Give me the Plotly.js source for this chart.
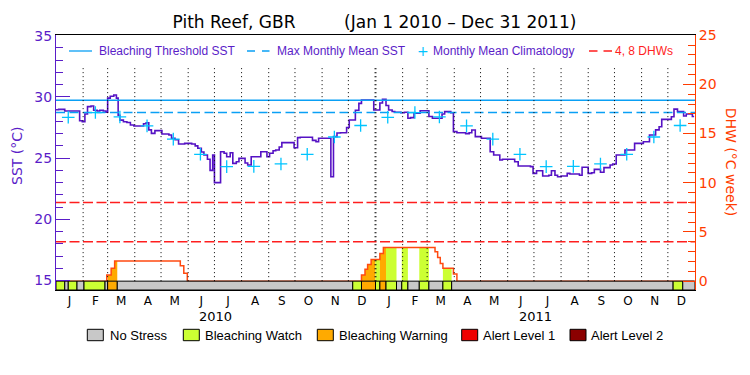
<!DOCTYPE html>
<html>
<head>
<meta charset="utf-8">
<script src="https://cdn.plot.ly/plotly-3.0.1.min.js"></script>
<style>html,body{margin:0;padding:0;background:#fff}</style>
</head>
<body>
<div id="chart" style="width:750px;height:375px"></div>
<script>
// ---------------- data ----------------
const sstDates = [
"2010-01-01","2010-01-04","2010-01-08","2010-01-11","2010-01-15","2010-01-18","2010-01-22","2010-01-25","2010-01-28","2010-01-31",
"2010-02-03","2010-02-06","2010-02-10","2010-02-13","2010-02-17","2010-02-20","2010-02-24","2010-02-27",
"2010-03-01","2010-03-04","2010-03-08","2010-03-11","2010-03-13","2010-03-15","2010-03-19","2010-03-23","2010-03-27","2010-03-31",
"2010-04-04","2010-04-08","2010-04-11","2010-04-14","2010-04-17","2010-04-20","2010-04-24","2010-04-28",
"2010-05-02","2010-05-06","2010-05-10","2010-05-13","2010-05-17","2010-05-21","2010-05-25","2010-05-28",
"2010-06-01","2010-06-05","2010-06-09","2010-06-12","2010-06-16","2010-06-19","2010-06-23","2010-06-26","2010-06-29",
"2010-07-01","2010-07-05","2010-07-08","2010-07-12","2010-07-15","2010-07-19","2010-07-22","2010-07-26","2010-07-29",
"2010-08-02","2010-08-05","2010-08-08","2010-08-12","2010-08-16","2010-08-19","2010-08-23","2010-08-26","2010-08-30",
"2010-09-02","2010-09-06","2010-09-09","2010-09-13","2010-09-16","2010-09-20","2010-09-23","2010-09-27","2010-09-30",
"2010-10-04","2010-10-07","2010-10-11","2010-10-14","2010-10-18","2010-10-21","2010-10-25","2010-10-28",
"2010-11-01","2010-11-04","2010-11-08","2010-11-11","2010-11-14","2010-11-18","2010-11-22","2010-11-25","2010-11-29",
"2010-12-02","2010-12-06","2010-12-09","2010-12-13","2010-12-16","2010-12-20","2010-12-23","2010-12-27","2010-12-30",
"2011-01-03","2011-01-06","2011-01-09","2011-01-13","2011-01-16","2011-01-20","2011-01-23","2011-01-27","2011-01-30",
"2011-02-03","2011-02-07","2011-02-10","2011-02-14","2011-02-17","2011-02-21","2011-02-24","2011-02-28",
"2011-03-03","2011-03-07","2011-03-10","2011-03-14","2011-03-18","2011-03-21","2011-03-25","2011-03-28","2011-03-31",
"2011-04-04","2011-04-07","2011-04-11","2011-04-14","2011-04-18","2011-04-21","2011-04-25","2011-04-28",
"2011-05-02","2011-05-05","2011-05-09","2011-05-12","2011-05-16","2011-05-19","2011-05-23","2011-05-26","2011-05-30",
"2011-06-02","2011-06-06","2011-06-09","2011-06-13","2011-06-16","2011-06-20","2011-06-23","2011-06-27","2011-06-30",
"2011-07-04","2011-07-07","2011-07-11","2011-07-14","2011-07-18","2011-07-21","2011-07-25","2011-07-28",
"2011-08-01","2011-08-04","2011-08-08","2011-08-11","2011-08-15","2011-08-18","2011-08-22","2011-08-25","2011-08-29",
"2011-09-01","2011-09-05","2011-09-08","2011-09-12","2011-09-15","2011-09-19","2011-09-22","2011-09-26","2011-09-29",
"2011-10-03","2011-10-06","2011-10-10","2011-10-13","2011-10-17","2011-10-20","2011-10-24","2011-10-27","2011-10-31",
"2011-11-03","2011-11-07","2011-11-10","2011-11-14","2011-11-17","2011-11-21","2011-11-24","2011-11-28",
"2011-12-01","2011-12-05","2011-12-08","2011-12-12","2011-12-15","2011-12-19","2011-12-22","2011-12-26","2011-12-29","2011-12-31"
];
const sstValues = [
28.95,28.98,28.98,28.84,28.84,28.84,28.84,28.84,28.05,27.97,
28.6,29.2,29.25,28.9,28.84,28.9,28.84,28.75,
29.9,30.05,30.15,29.9,28.5,28.1,27.97,27.9,27.7,27.62,
27.62,27.62,27.8,27.89,27.3,27.02,27.24,27.24,
26.97,26.97,26.89,26.62,26.5,26.15,26.15,26.2,
26.2,26.15,26.0,25.8,25.5,25.25,24.9,24.0,25.25,
23.0,23.0,25.52,25.4,25.11,25.44,24.57,24.7,24.98,
24.98,24.6,24.44,25.11,25.11,25.11,25.52,25.52,25.11,
25.4,25.6,25.66,25.9,26.26,26.26,26.26,26.26,25.85,
26.67,26.7,26.7,26.7,26.7,26.45,26.34,26.62,
26.62,26.62,26.62,23.48,26.75,27.05,27.07,27.07,27.5,
28.11,28.11,28.9,29.47,29.74,29.74,29.74,29.74,28.93,
28.93,29.5,29.8,29.3,28.93,28.8,28.74,28.74,28.7,
28.74,28.25,28.3,28.66,28.66,28.87,28.87,28.87,
28.4,28.25,28.25,28.25,28.6,28.79,28.79,28.7,27.16,
27.07,27.07,27.07,27.0,27.07,27.29,26.75,26.75,
26.62,26.62,26.62,25.52,25.25,25.25,24.85,24.9,24.9,
24.9,24.9,24.7,24.35,24.35,24.35,24.35,24.3,23.75,
23.97,23.97,23.54,23.54,23.6,23.97,23.6,23.48,
23.54,23.54,23.75,23.7,23.7,23.7,23.6,24.25,24.25,
23.75,23.8,24.08,24.08,23.85,24.22,24.22,24.44,24.52,
25.25,25.25,25.25,25.66,25.66,25.66,26.2,26.2,26.2,
26.34,26.34,26.89,26.89,27.3,27.56,28.16,28.16,
28.16,28.38,29.0,28.79,28.79,28.44,28.6,28.6,28.4,28.4
];
const climValues = [28.33,28.72,28.36,27.63,26.55,25.31,24.30,24.32,24.52,25.31,26.72,27.66];
const years = [2010, 2011];
const monthLetters = ['J','F','M','A','M','J','J','A','S','O','N','D'];
const maxMonthlyMean = 28.72;
const bleachingThreshold = 29.72;
const dhwLevels = [4, 8];
const dhwDates = ["2010-01-01","2010-02-28","2010-03-05","2010-03-09","2010-05-23","2010-05-27","2010-05-31",
  "2010-12-16","2010-12-20","2010-12-23","2010-12-27","2011-01-06","2011-01-10",
  "2011-03-10","2011-03-13","2011-03-16","2011-03-19","2011-03-31","2011-04-04","2011-12-31"];
const dhwValues = [0,0.62,1.3,2.04,1.57,0.79,0,
  0.62,1.2,1.7,2.21,2.82,3.43,
  2.99,2.41,1.8,1.3,0.72,0,0];
const statusStarts = ["2010-01-01","2010-01-11","2010-01-15","2010-01-25","2010-02-02","2010-02-26","2010-03-01","2010-03-12",
  "2010-12-06","2010-12-16","2011-01-01","2011-01-06","2011-01-13","2011-01-25","2011-01-31","2011-02-07",
  "2011-02-20","2011-03-03","2011-03-19","2011-03-29","2011-12-07","2011-12-18"];
const statusCodes = [1,0,1,0,1,0,2,0, 1,2,1,2,1,0,1,0, 1,0,1,0,1,0];
const statusNames = ['No Stress','Bleaching Watch','Bleaching Warning','Alert Level 1','Alert Level 2'];
const statusColors = ['#c8c8c8','#ccff33','#ffaa00','#ee0000','#8b0000'];
const xStart = '2010-01-01', xEnd = '2012-01-01';

// ---------------- styles ----------------
const PURPLE = '#5a1dc8', LINEPURPLE = '#5512c4', BLUE = '#0aa0f5', CYAN = '#00c4ff',
      RED = '#ff1e1e', ORANGE = '#ff3c00', DHWLINE = '#ff4a10';
const txtFont = 'Liberation Sans, Arial, sans-serif';
const numFont = 'DejaVu Sans, sans-serif';

function ms(d){ return Date.parse(d); }
function fmt(t){ return new Date(t).toISOString().slice(0,19).replace('T',' '); }
function dhwAt(t){ let v = 0; for (let i=0;i<dhwDates.length;i++){ if (ms(dhwDates[i]) <= t) v = dhwValues[i]; } return v; }

const traces = [];
// SST
traces.push({x: sstDates, y: sstValues, mode:'lines', line:{color:LINEPURPLE, width:1.6, shape:'hv'}, hoverinfo:'skip'});
// threshold & MMM
traces.push({x:[xStart,xEnd], y:[bleachingThreshold,bleachingThreshold], mode:'lines', line:{color:BLUE,width:1.6}, hoverinfo:'skip'});
traces.push({x:[xStart,xEnd], y:[maxMonthlyMean,maxMonthlyMean], mode:'lines', line:{color:BLUE,width:1.6,dash:'9px,4.5px'}, hoverinfo:'skip'});
// climatology
const climX = [], climY = [];
years.forEach(y => climValues.forEach((v,m) => { climX.push(y+'-'+String(m+1).padStart(2,'0')+'-15'); climY.push(v); }));
traces.push({x:climX, y:climY, mode:'markers', marker:{symbol:'cross-thin', size:9, line:{color:CYAN, width:1.3}}, hoverinfo:'skip'});

// DHW fills coloured by status
const segEnds = statusStarts.slice(1).concat([xEnd]);
statusStarts.forEach((s,i) => {
  const c = statusCodes[i]; if (c === 0) return;
  const t0 = ms(s), t1 = ms(segEnds[i]);
  const xs = [fmt(t0)], ys = [dhwAt(t0)];
  dhwDates.forEach((d,k) => { const t = ms(d); if (t > t0 && t < t1){ xs.push(fmt(t)); ys.push(dhwValues[k]); } });
  xs.push(fmt(t1)); ys.push(ys[ys.length-1]);
  traces.push({x:xs, y:ys, yaxis:'y2', mode:'lines', line:{shape:'hv', width:0, color:statusColors[c]}, fill:'tozeroy', fillcolor:statusColors[c], hoverinfo:'skip'});
});
// DHW levels
dhwLevels.forEach(l => traces.push({x:[xStart,xEnd], y:[l,l], yaxis:'y2', mode:'lines', line:{color:RED,width:1.4,dash:'10px,3.5px'}, hoverinfo:'skip'}));
// DHW line
traces.push({x:dhwDates, y:dhwValues, yaxis:'y2', mode:'lines', line:{color:DHWLINE, width:1.5, shape:'hv'}, hoverinfo:'skip'});
// status bar
const barX = [], barW = [], barC = [], barY = [];
statusStarts.forEach((s,i) => { const t0 = ms(s), t1 = ms(segEnds[i]); barX.push(fmt((t0+t1)/2)); barW.push(t1-t0); barC.push(statusColors[statusCodes[i]]); barY.push(0.9); });
traces.push({type:'bar', x:barX, y:barY, base:-0.9, width:barW, yaxis:'y3', marker:{color:barC, line:{color:'black', width:1}}, hoverinfo:'skip'});

// month ticks
const tickvals = [], ticktext = [];
years.forEach(y => monthLetters.forEach((L,m) => {
  const a = Date.UTC(y,m,1), b = Date.UTC(y,m+1,1);
  tickvals.push(fmt((a+b)/2)); ticktext.push(L);
}));

// shapes: month gridlines + legend symbols
const PX = px => (px-56)/639, PY = py => (290-py)/255;
const shapes = [];
years.forEach(y => { for (let m=0;m<12;m++){ if (y===years[0] && m===0) continue;
  const d = fmt(Date.UTC(y,m,1));
  shapes.push({type:'line', xref:'x', yref:'y2', x0:d, x1:d, y0:0, y1:21.9, layer:'above',
    line:{color:'black', width:(m===0?2:1), dash:'1px,3px'}});
}});
const annotations = [];
// year labels
years.forEach(y => { const a = Date.UTC(y,0,1), b = Date.UTC(y+1,0,1);
  annotations.push({x:fmt((a+b)/2), xref:'x', y:PY(316), yref:'paper', text:String(y), showarrow:false,
    xanchor:'center', yanchor:'middle', font:{family:numFont, size:13, color:'black'}}); });
// top legend
const legY = PY(51);
shapes.push({type:'line', xref:'paper', yref:'paper', x0:PX(69), x1:PX(92), y0:legY, y1:legY, line:{color:BLUE,width:1.3}});
shapes.push({type:'line', xref:'paper', yref:'paper', x0:PX(247), x1:PX(269.5), y0:legY, y1:legY, line:{color:BLUE,width:1.3,dash:'8px,7px'}});
shapes.push({type:'line', xref:'paper', yref:'paper', x0:PX(589), x1:PX(612), y0:legY, y1:legY, line:{color:RED,width:1.3,dash:'8.5px,6px'}});
const topLeg = [[98,'Bleaching Threshold SST',PURPLE],[276,'Max Monthly Mean SST',PURPLE],[432.5,'Monthly Mean Climatology',PURPLE],[614,'4, 8 DHWs',RED]];
topLeg.forEach(([px,t,c]) => annotations.push({x:PX(px), y:legY, xref:'paper', yref:'paper', text:t, showarrow:false,
  xanchor:'left', yanchor:'middle', font:{family:txtFont, size:12, color:c}, borderpad:0}));
annotations.push({x:PX(422.7), y:legY, xref:'paper', yref:'paper', text:'+', showarrow:false, xanchor:'center', yanchor:'middle',
  font:{family:numFont, size:14, color:CYAN}});
// bottom legend
const boxX = [87.3,183.3,317.3,461.7,570], txtX = [109,204,338,482.3,590];
statusNames.forEach((n,i) => {
  shapes.push({type:'rect', xref:'paper', yref:'paper', x0:PX(boxX[i]), x1:PX(boxX[i]+16), y0:PY(340.7), y1:PY(329.3),
    fillcolor:statusColors[i], line:{color:'black', width:1}});
  annotations.push({x:PX(txtX[i]), y:PY(335.3), xref:'paper', yref:'paper', text:n, showarrow:false, xanchor:'left', yanchor:'middle',
    font:{family:txtFont, size:13, color:'black'}, borderpad:0});
});
// axis titles
annotations.push({x:PX(17), y:PY(156), xref:'paper', yref:'paper', text:'SST (°C)', textangle:-90, showarrow:false,
  xanchor:'center', yanchor:'middle', font:{family:numFont, size:14, color:PURPLE}});
annotations.push({x:PX(731), y:PY(161.7), xref:'paper', yref:'paper', text:'DHW (°C week)', textangle:90, showarrow:false,
  xanchor:'center', yanchor:'middle', font:{family:numFont, size:14, color:ORANGE}});

const layout = {
  width:750, height:375,
  margin:{l:56, r:55, t:35, b:85},
  paper_bgcolor:'white', plot_bgcolor:'white',
  showlegend:false, bargap:0,
  font:{family:numFont, size:12},
  title:{text:'Pith Reef, GBR\u00a0\u00a0\u00a0\u00a0\u00a0\u00a0\u00a0\u00a0\u00a0(Jan 1 2010 \u2013 Dec 31 2011)',
    x:0.4993, xanchor:'center', xref:'container', y:1-22/375, yanchor:'middle', yref:'container',
    font:{family:numFont, size:17, color:'black'}},
  xaxis:{type:'date', range:[xStart, xEnd], showgrid:false, zeroline:false, showline:true, mirror:true,
    linecolor:'black', linewidth:1, ticks:'', tickvals:tickvals, ticktext:ticktext,
    tickfont:{family:numFont, size:12, color:'black'}, fixedrange:true},
  yaxis:{range:[14.23, 35.05], tickvals:[15,20,25,30,35], ticks:'inside', ticklen:14, tickwidth:1, tickcolor:PURPLE,
    minor:{dtick:1, ticks:'inside', ticklen:7, tickwidth:1, tickcolor:PURPLE, showgrid:false},
    showline:true, linecolor:PURPLE, linewidth:1, showgrid:false, zeroline:false,
    tickfont:{family:numFont, size:14, color:PURPLE}, fixedrange:true},
  yaxis2:{overlaying:'y', side:'right', range:[-0.9, 25.02], tickvals:[0,5,10,15,20,25], ticks:'inside', ticklen:12, tickwidth:1,
    tickcolor:ORANGE, minor:{dtick:1, ticks:'inside', ticklen:7, tickwidth:1, tickcolor:ORANGE, showgrid:false},
    showline:true, linecolor:ORANGE, linewidth:1, showgrid:false, zeroline:false,
    tickfont:{family:numFont, size:14, color:ORANGE}, fixedrange:true},
  yaxis3:{overlaying:'y', range:[-0.9, 25.02], visible:false, fixedrange:true},
  shapes:shapes, annotations:annotations
};
Plotly.newPlot('chart', traces, layout, {staticPlot:true, displayModeBar:false});
</script>
</body>
</html>
